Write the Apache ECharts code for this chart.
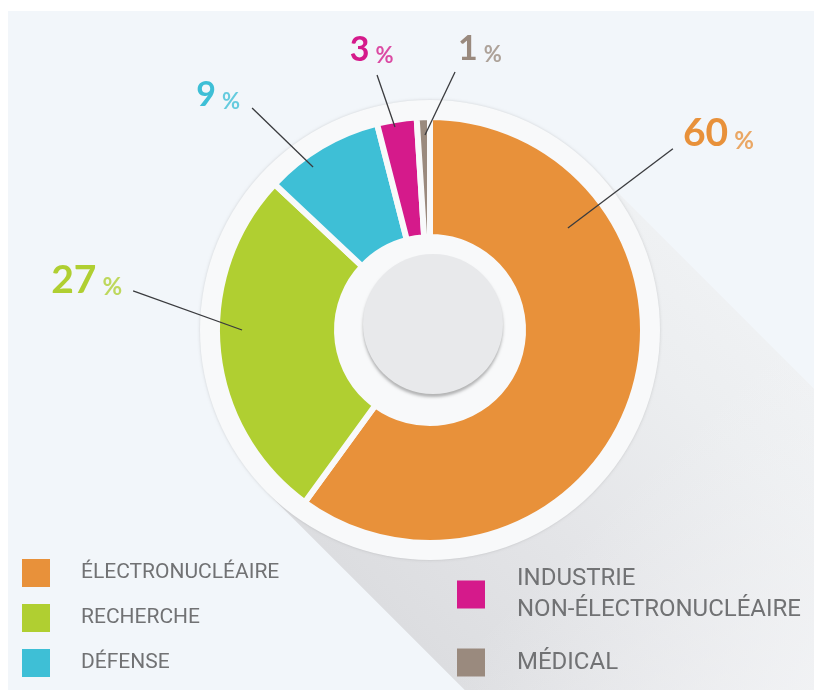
<!DOCTYPE html>
<html>
<head>
<meta charset="utf-8">
<script src="https://cdn.jsdelivr.net/npm/echarts@6/dist/echarts.min.js"></script>
<style>
html,body{margin:0;padding:0;background:#ffffff;}
#c{width:814px;height:690px;}
</style>
</head>
<body>
<div id="c"></div>
<script>
// ---------- data ----------
const categories = ['\u00C9LECTRONUCL\u00C9AIRE', 'RECHERCHE', 'D\u00C9FENSE', 'INDUSTRIE NON-\u00C9LECTRONUCL\u00C9AIRE', 'M\u00C9DICAL'];
const values = [60, 27, 9, 3, 1];
const colors = ['#e8913a', '#b0cf31', '#3ebfd6', '#d51a8b', '#9a8a7e'];
const percentLabels = values.map(v => String(v));

// ---------- layout (positions / sizes / styles) ----------
const CX = 430, CY = 330;
const R_IN = 96, R_OUT = 210, GAP = 6, R_DISC = 230;
const BG = '#f2f6fa', DISC = '#f8f9fa';
// leader-line placement for each label: angle shift from slice middle (in % of the turn),
// radii as fraction of outer radius, text offsets
const labelPlacement = [
  { shift: -15.14, r1: 0.817, turn: -0.06, r2: 1.443, align: 'left',   dx: 10,   dy: -15,   size: 39, pct: 24 },
  { shift: 1.5,    r1: 0.895, turn: 2.08,  r2: 1.426, align: 'right',  dx: -11,  dy: -11,   size: 39, pct: 24 },
  { shift: -1.41,  r1: 0.955, turn: -0.84, r2: 1.355, align: 'right',  dx: -12,  dy: -12.5, size: 34, pct: 22 },
  { shift: -0.22,  r1: 0.981, turn: -0.54, r2: 1.24,  align: 'center', dx: -5.5, dy: -25.5, size: 34, pct: 22 },
  { shift: 0.09,   r1: 0.929, turn: 1.95,  r2: 1.234, align: 'left',   dx: 3,    dy: -23,   size: 34, pct: 22 }
];

function fade(hex, a) {
  const n = parseInt(hex.slice(1), 16);
  return 'rgba(' + ((n >> 16) & 255) + ',' + ((n >> 8) & 255) + ',' + (n & 255) + ',' + a + ')';
}

const total = values.reduce((s, v) => s + v, 0);
let cum = 0;
const mids = values.map(v => { const m = cum + v / 2; cum += v; return m; });

// long shadow geometry (decoration)
const d = R_DISC / Math.SQRT2, LEN = 900;
const T1 = [CX + d, CY - d], T2 = [CX - d, CY + d];
const shadowPts = [T1, [T1[0] + LEN, T1[1] + LEN], [T2[0] + LEN, T2[1] + LEN], T2];

const chart = echarts.init(document.getElementById('c'), null, { renderer: 'canvas' });

const legendText = { fontFamily: 'Roboto', color: '#717274' };

chart.setOption({
  animation: false,
  backgroundColor: '#ffffff',
  graphic: [
    { type: 'rect', z: -10, shape: { x: 8, y: 11, width: 806, height: 679 }, style: { fill: BG }, silent: true },
    { type: 'polygon', z: -9, shape: { points: shadowPts }, silent: true,
      style: { fill: new echarts.graphic.LinearGradient(T2[0], T2[1], T1[0], T1[1], [
        { offset: 0, color: '#dcdde0' }, { offset: 0.4, color: '#e4e5e8' }, { offset: 0.8, color: '#eceef0' }, { offset: 1, color: '#eff1f3' }], true) } },
    { type: 'polygon', z: -8, shape: { points: shadowPts }, silent: true,
      style: { fill: new echarts.graphic.LinearGradient(CX + 177, CY + 177, CX + 396, CY + 396, [
        { offset: 0, color: 'rgba(244,245,247,0)' }, { offset: 1, color: 'rgba(244,245,247,0.85)' }], true) } },
    { type: 'circle', z: -7, shape: { cx: CX, cy: CY, r: R_DISC }, silent: true,
      style: { fill: DISC, shadowBlur: 3, shadowColor: 'rgba(0,0,0,0.15)' } },
    { type: 'circle', z: -6, shape: { cx: CX + 3, cy: CY - 6, r: 70 }, silent: true,
      style: { fill: '#e8e9eb', shadowBlur: 3, shadowOffsetY: 3, shadowColor: 'rgba(0,0,0,0.28)' } }
  ],
  polar: { center: [CX, CY], radius: R_OUT },
  angleAxis: { type: 'value', min: 0, max: total, startAngle: 90, clockwise: true, show: false },
  radiusAxis: { type: 'value', min: 0, max: 1, show: false },
  legend: [
    {
      data: categories.slice(0, 3),
      orient: 'vertical', left: 22, top: 559, padding: 0,
      itemWidth: 28, itemHeight: 28, itemGap: 17, icon: 'rect', selectedMode: false,
      itemStyle: { borderWidth: 0 },
      textStyle: Object.assign({ fontSize: 21, padding: [0, 0, 0, 26] }, legendText)
    },
    {
      data: [
        { name: categories[3], textStyle: { padding: [26, 0, 0, 27] } },
        { name: categories[4], textStyle: { padding: [0, 0, 0, 27] } }
      ],
      orient: 'vertical', left: 457, top: 550.5, padding: 0,
      itemWidth: 28, itemHeight: 28, itemGap: 8.5, icon: 'rect', selectedMode: false,
      itemStyle: { borderWidth: 0 },
      formatter: n => n.replace('INDUSTRIE ', 'INDUSTRIE\n'),
      textStyle: Object.assign({ fontSize: 24, lineHeight: 31 }, legendText)
    }
  ],
  series: [
    {
      type: 'pie',
      center: [CX, CY],
      radius: [R_IN - GAP / 2, R_OUT + GAP / 2],
      startAngle: 90,
      clockwise: true,
      silent: true,
      label: { show: false },
      labelLine: { show: false },
      emphasis: { disabled: true },
      itemStyle: { borderColor: DISC, borderWidth: GAP },
      data: categories.map((c, i) => ({ name: c, value: values[i], itemStyle: { color: colors[i] } }))
    },
    {
      type: 'custom',
      coordinateSystem: 'polar',
      silent: true,
      clip: false,
      z: 5,
      data: mids.map(m => [1, m]),
      renderItem: function (params, api) {
        const i = params.dataIndex;
        const L = labelPlacement[i];
        const a1 = api.value(1) + L.shift;
        const a2 = a1 + L.turn;
        const p1 = api.coord([L.r1, a1]);
        const p2 = api.coord([L.r2, a2]);
        const B = L.size, S = L.pct;
        return {
          type: 'group',
          children: [
            { type: 'line', shape: { x1: p1[0], y1: p1[1], x2: p2[0], y2: p2[1] },
              style: { stroke: '#3a3b3e', lineWidth: 1.3 } },
            { type: 'text', x: p2[0] + L.dx, y: p2[1] + L.dy,
              style: {
                text: '{n|' + percentLabels[i] + '}{p|%}',
                align: L.align, verticalAlign: 'middle',
                rich: {
                  n: { fontFamily: 'Lato', fontWeight: 'bold', fontSize: B, lineHeight: B, fill: colors[i], verticalAlign: 'bottom' },
                  p: { fontFamily: 'Lato', fontWeight: 'bold', fontSize: S, lineHeight: 0.4 * B + 0.6 * S,
                       fill: fade(colors[i], 0.78), verticalAlign: 'bottom', padding: [0, 0, 0, 6] }
                }
              } }
          ]
        };
      }
    }
  ]
});
</script>
</body>
</html>
